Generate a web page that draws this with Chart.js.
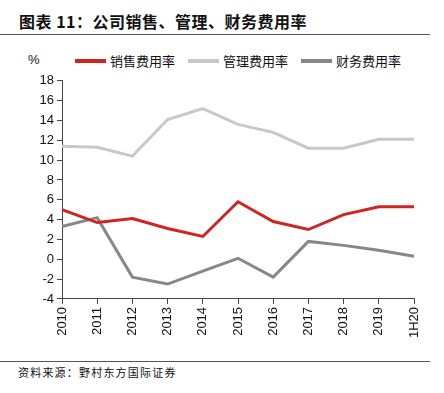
<!DOCTYPE html>
<html>
<head>
<meta charset="utf-8">
<script src="https://cdn.jsdelivr.net/npm/chart.js@4.4.0/dist/chart.umd.min.js"></script>
<style>
    body { margin: 0; width: 444px; height: 393px; background: #fff; position: relative; overflow: hidden; }
    #title { position: absolute; left: 19px; top: 9px; font: bold 16px "Noto Sans CJK SC", sans-serif; color: #111; letter-spacing: 0.5px; }
    .rule { position: absolute; left: 0; width: 430px; height: 1px; background: #555; }
    #unit { position: absolute; left: 28px; top: 52px; font: 13px "Liberation Sans", Arial, sans-serif; color: #111; }
    #legend { position: absolute; left: 75px; top: 52px; font: 13px "Noto Sans CJK SC", sans-serif; color: #111; white-space: nowrap; line-height: 18px; }
    #legend span.item { display: inline-block; margin-right: 13px; }
    #legend span.swatch { display: inline-block; width: 31px; height: 4px; vertical-align: middle; margin-right: 4px; position: relative; top: -1px; }
    #source { position: absolute; left: 18px; top: 364px; font: 11px "Noto Sans CJK SC", sans-serif; color: #111; letter-spacing: 1.2px; }
    #box { position: absolute; left: 0; top: 70px; width: 444px; height: 271px; }
</style>
</head>
<body>
<div id="title">图表 11：公司销售、管理、财务费用率</div>
<div class="rule" style="top:34px"></div>
<div id="unit">%</div>
<div id="legend"></div>
<div id="box"><canvas id="myChart"></canvas></div>
<div class="rule" style="top:361px"></div>
<div id="source">资料来源：野村东方国际证券</div>

<script>
var years = ['2010', '2011', '2012', '2013', '2014', '2015', '2016', '2017', '2018', '2019', '1H20'];
var salesRate = [5.0, 3.7, 4.1, 3.1, 2.3, 5.8, 3.8, 3.0, 4.5, 5.3, 5.3];
var adminRate = [11.4, 11.3, 10.4, 14.1, 15.2, 13.6, 12.8, 11.2, 11.2, 12.1, 12.1];
var financeRate = [3.3, 4.2, -1.8, -2.5, -1.2, 0.1, -1.8, 1.8, 1.4, 0.9, 0.3];
var seriesNames = ['销售费用率', '管理费用率', '财务费用率'];
var seriesColors = ['rgb(210, 35, 35)', 'rgb(200, 200, 200)', 'rgb(135, 135, 135)'];

window.onload = function () {
    drawLegend();
    drawChart();
}

function drawLegend() {
    var html = '';
    for (var i = 0; i < seriesNames.length; i++) {
        html += '<span class="item"><span class="swatch" style="background:' + seriesColors[i] + '"></span>' + seriesNames[i] + '</span>';
    }
    document.getElementById('legend').innerHTML = html;
}

function drawChart() {
    var ctx = document.getElementById('myChart').getContext('2d');
    var axisColor = '#444';
    var myChart = new Chart(ctx, {
        type: 'line',
        data: {
            labels: years,
            datasets: [{
                label: seriesNames[0],
                data: salesRate,
                borderColor: seriesColors[0],
                backgroundColor: seriesColors[0]
            }, {
                label: seriesNames[1],
                data: adminRate,
                borderColor: seriesColors[1],
                backgroundColor: seriesColors[1]
            }, {
                label: seriesNames[2],
                data: financeRate,
                borderColor: seriesColors[2],
                backgroundColor: seriesColors[2]
            }]
        },
        options: {
            responsive: true,
            maintainAspectRatio: false,
            animation: false,
            elements: {
                line: { borderWidth: 3, tension: 0 },
                point: { radius: 0 }
            },
            layout: { padding: { left: 0, right: 30, top: 8, bottom: 0 } },
            plugins: {
                tooltip: { enabled: false },
                legend: { display: false }
            },
            scales: {
                x: {
                    offset: false,
                    grid: { drawOnChartArea: false, tickLength: 5, color: axisColor },
                    border: { color: axisColor, width: 1 },
                    ticks: {
                        minRotation: 90,
                        maxRotation: 90,
                        color: '#111',
                        padding: 3,
                        font: { family: '"Liberation Sans", Arial, sans-serif', size: 13 }
                    }
                },
                y: {
                    min: -4,
                    max: 18,
                    grid: { drawOnChartArea: false, tickLength: 5, color: axisColor },
                    border: { color: axisColor, width: 1 },
                    ticks: {
                        stepSize: 2,
                        color: '#111',
                        padding: 3,
                        font: { family: '"Liberation Sans", Arial, sans-serif', size: 13 }
                    },
                    afterFit: function (scale) { scale.width = 62; }
                }
            }
        }
    });
}
</script>
</body>
</html>
